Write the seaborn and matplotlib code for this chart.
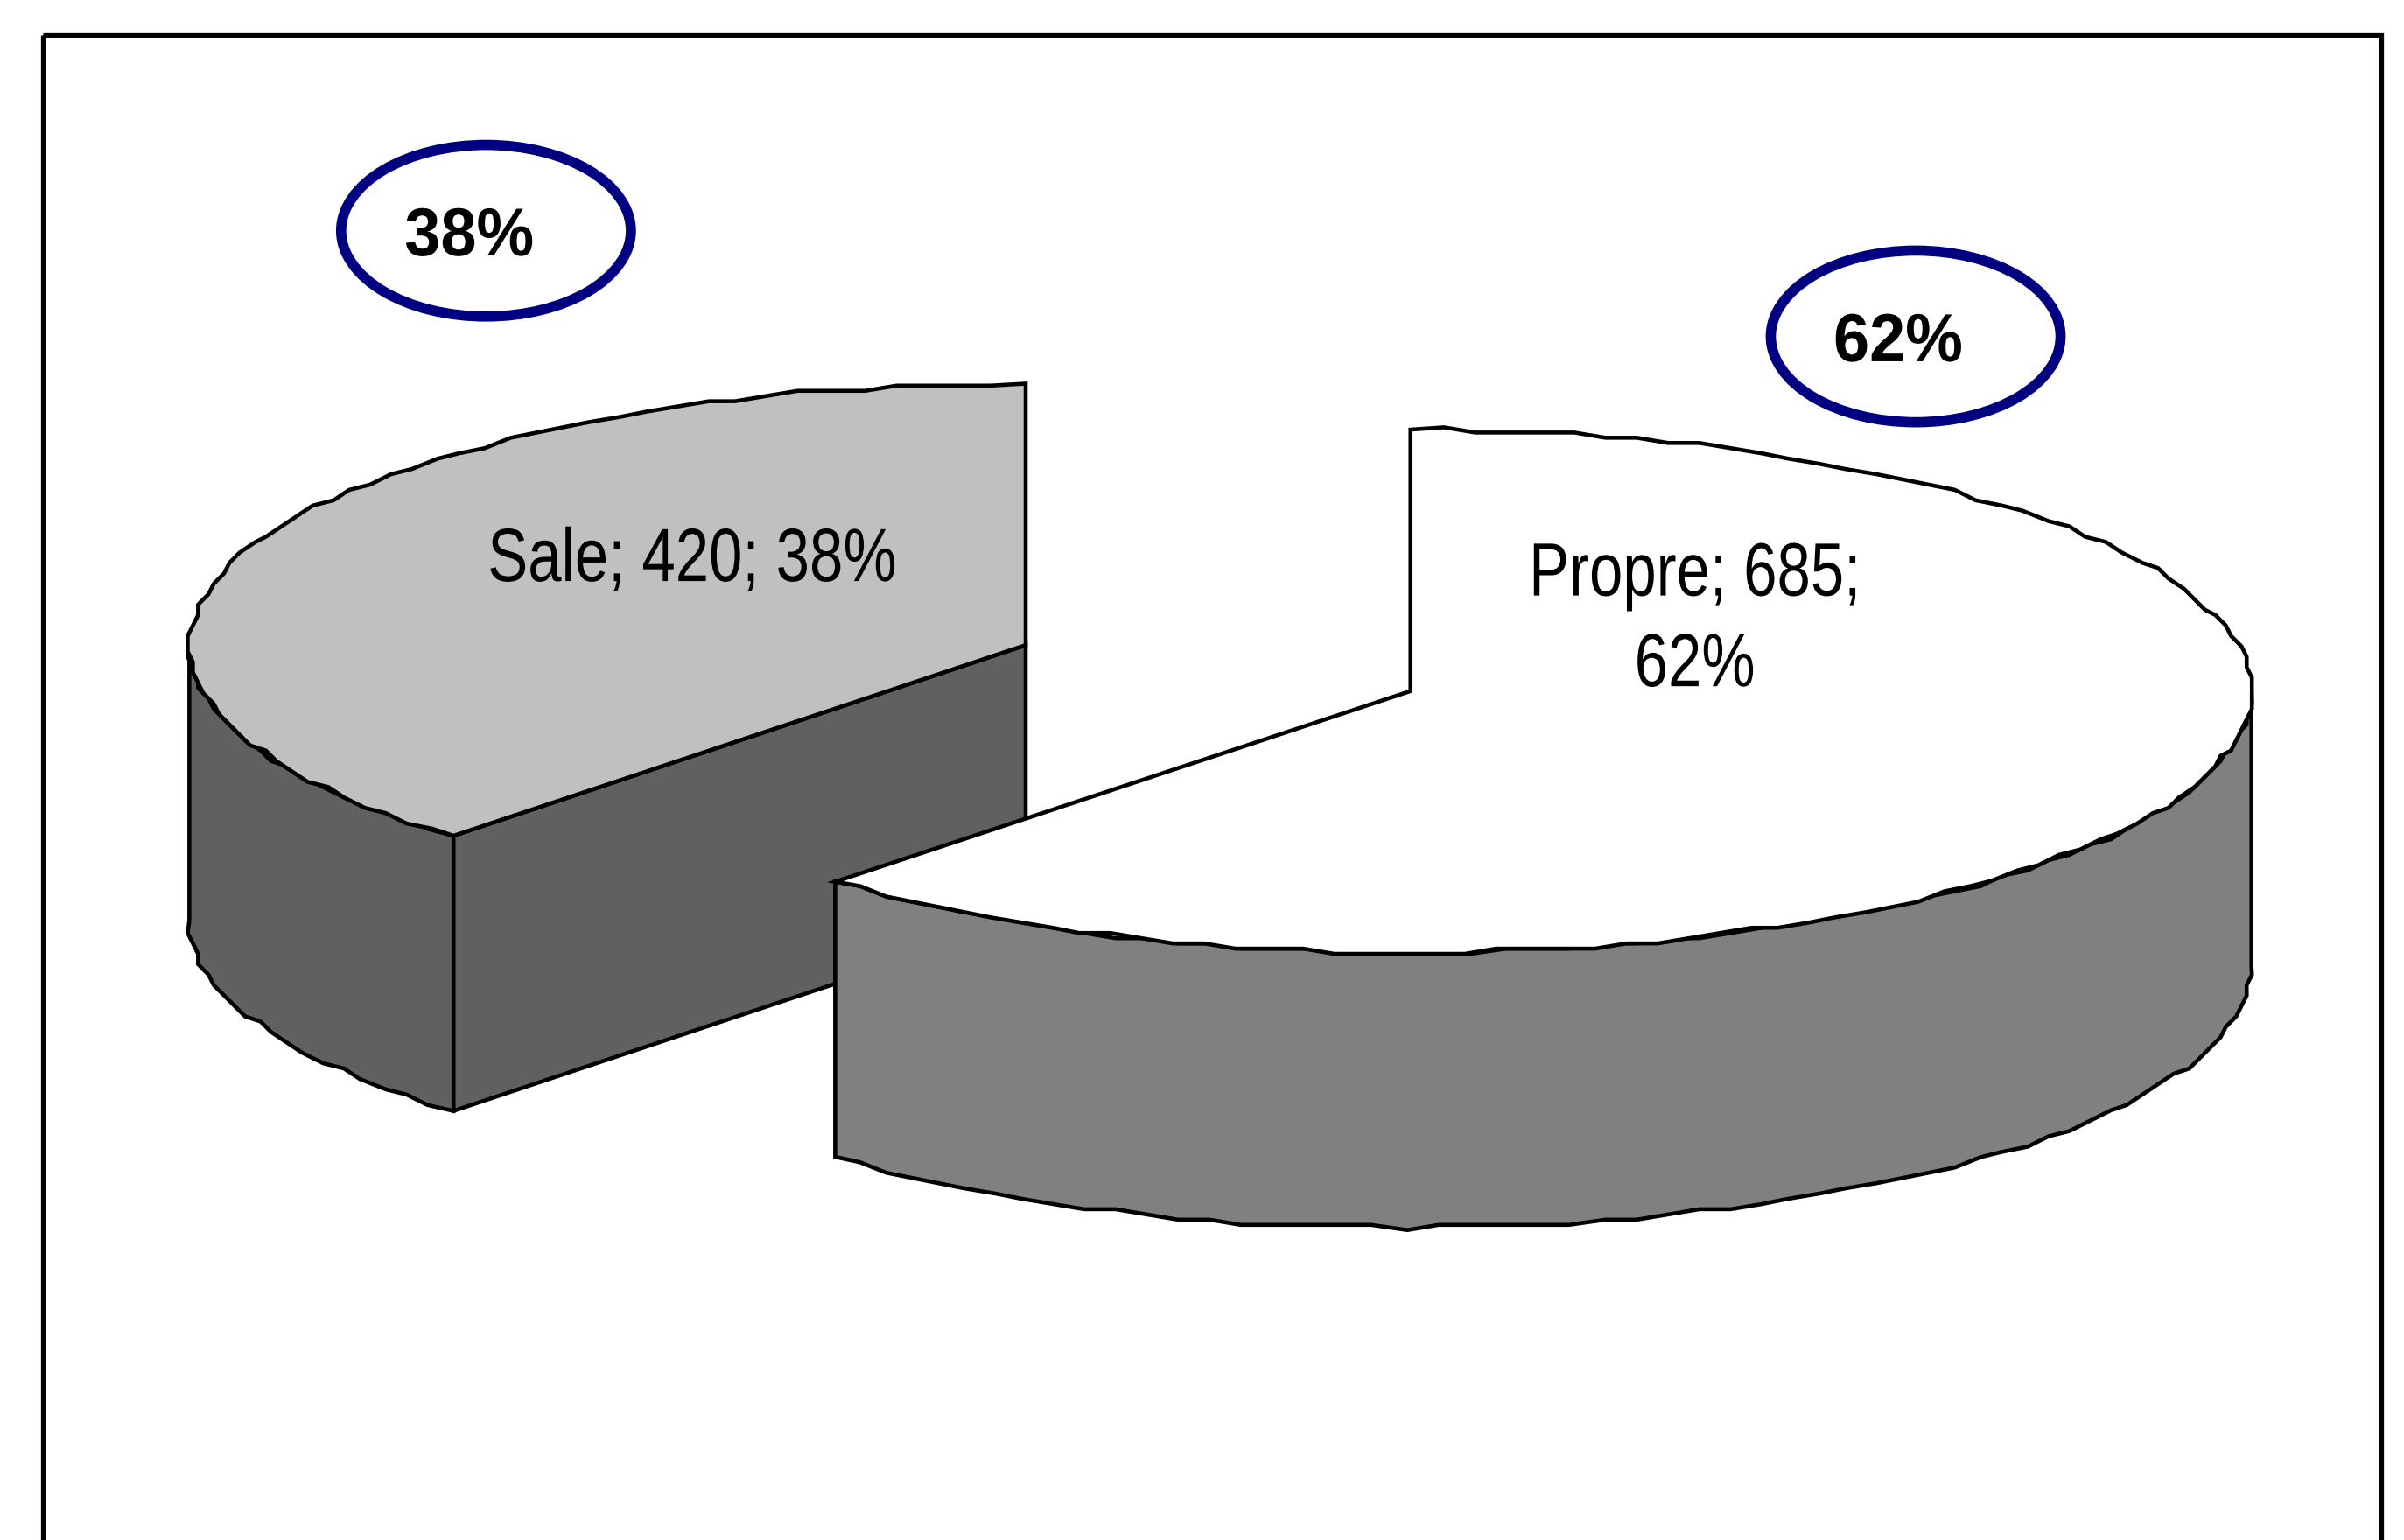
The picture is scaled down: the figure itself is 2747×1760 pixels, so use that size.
import numpy as np
import pandas as pd
import seaborn as sns
import matplotlib
matplotlib.use("Agg")
import matplotlib.pyplot as plt
from matplotlib.patches import Polygon, Ellipse, Rectangle
from matplotlib.patheffects import AbstractPathEffect
from matplotlib.transforms import Affine2D

categories = ["Propre", "Sale"]
values = [685, 420]
percent_labels = ["62%", "38%"]
slice_labels = ["Propre; 685;\n62%", "Sale; 420; 38%"]

sns.set_theme(style="white")
plt.rcParams["font.family"] = ["Liberation Sans", "DejaVu Sans"]

W, H = 2747, 1760
S = W / 1568.0
fig = plt.figure(figsize=(W / 100, H / 100), dpi=100, facecolor="white")
ax = fig.add_axes([0, 0, 1, 1])
ax.set_xlim(0, W)
ax.set_ylim(H, 0)
ax.axis("off")

df = pd.DataFrame({"cat": categories, "val": values})
df["frac"] = df["val"] / df["val"].sum()
sweep = df["frac"].to_numpy() * 2 * np.pi
start = -np.pi / 2
split = start + sweep[0]

RY, DEPTH = 170.5 * S, 179.5 * S
RX_PROPRE, RX_SALE = 548.5 * S, 545.5 * S
LW = 3.3


class Condense(AbstractPathEffect):
    """Narrow a text horizontally about its anchor (the source uses Arial Narrow-like glyphs)."""

    def __init__(self, cx, sx):
        super().__init__()
        self.cx, self.sx = cx, sx

    def draw_path(self, renderer, gc, tpath, affine, rgbFace=None):
        squeeze = Affine2D().translate(-self.cx, 0).scale(self.sx, 1).translate(self.cx, 0)
        renderer.draw_path(gc, tpath, affine + squeeze, rgbFace)


def stepped(pts):
    # the source is a coarse raster tracing: snap the outline to a small grid
    return np.round(pts / (3.4 * S)) * (3.4 * S)


def arc(c, rx, t0, t1, dy=0.0):
    n = max(int(abs(t1 - t0) * 26), 2)
    t = np.linspace(t0, t1, n)
    p = np.column_stack([c[0] + rx * np.cos(t), c[1] + dy + RY * np.sin(t)])
    q = stepped(p)
    q[0], q[-1] = p[0], p[-1]
    return q


def poly(pts, color):
    ax.add_patch(Polygon(pts, closed=True, facecolor=color, edgecolor="black",
                         linewidth=LW, joinstyle="miter"))


# Sale slice (drawn first, partly hidden by Propre)
c_s = (669 * S, 420.8 * S)
t0, t1 = split, start + 2 * np.pi
side = arc(c_s, RX_SALE, t0, np.pi)
side_b = arc(c_s, RX_SALE, t0, np.pi, DEPTH)
poly(np.vstack([side, side_b[::-1]]), "#606060")
p_end = np.array([c_s[0] + RX_SALE * np.cos(t0), c_s[1] + RY * np.sin(t0)])
poly([c_s, p_end, p_end + [0, DEPTH], (c_s[0], c_s[1] + DEPTH)], "#606060")
poly(np.vstack([[c_s], arc(c_s, RX_SALE, t0, t1)]), "#C0C0C0")

# Propre slice
c_p = (920 * S, 450.8 * S)
side = arc(c_p, RX_PROPRE, 0, split)
side_b = arc(c_p, RX_PROPRE, 0, split, DEPTH)
poly(np.vstack([side, side_b[::-1]]), "#808080")
poly(np.vstack([[c_p], arc(c_p, RX_PROPRE, start, split)]), "#FFFFFF")

# Data labels
for (x, y, label) in [(451.5, 366.5, slice_labels[1]), (1105.5, 405.5, slice_labels[0])]:
    ax.text(x * S, y * S, label, ha="center", va="center", fontsize=62,
            color="black", linespacing=1.38,
            path_effects=[Condense(x * S, 0.80)])

# Callout ellipses
for (x, y, tx, ty, label) in [(317, 150.5, 306, 155, percent_labels[1]),
                              (1249.5, 219.5, 1238, 224, percent_labels[0])]:
    ax.add_patch(Ellipse((x * S, y * S), 189 * S, 112 * S, facecolor="white",
                         edgecolor="#000080", linewidth=8.4))
    ax.text(tx * S, ty * S, label, ha="center", va="center", fontsize=56,
            fontweight="bold", color="black",
            path_effects=[Condense(tx * S, 0.95)])

# Outer frame, running off the lower edge
ax.add_patch(Rectangle((28 * S, 23 * S), 1525 * S, H, fill=False, edgecolor="black",
                       linewidth=3.8, clip_on=True))

fig.savefig("out.png", dpi=100, facecolor="white")
